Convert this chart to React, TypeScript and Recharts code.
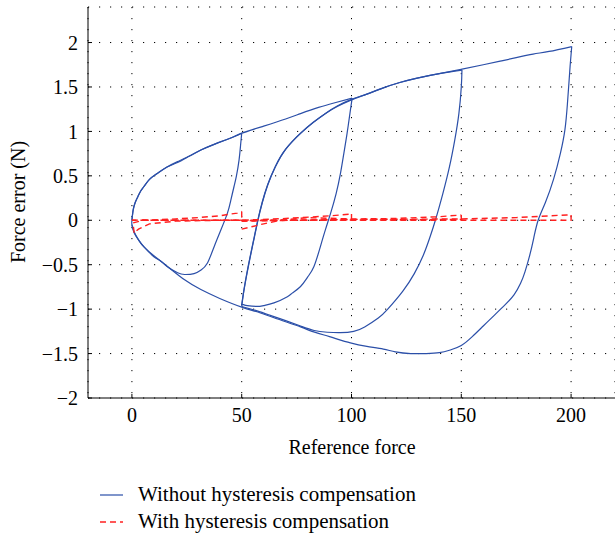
import React from 'react';
import { LineChart, Line, XAxis, YAxis, CartesianGrid } from 'recharts';

type Pt = { x: number; y: number };
const pts = (rows: number[][]): Pt[] => rows.map(([x, y]) => ({ x, y }));

const X_TICKS = [0, 50, 100, 150, 200];
const Y_TICKS = [-2, -1.5, -1, -0.5, 0, 0.5, 1, 1.5, 2];

// Without hysteresis compensation (blue), in loading order
const firstLoad0to50 = pts([
  [0, 0], [0.6, 0.12], [1.5, 0.2], [2.6, 0.26], [4, 0.33], [5.5, 0.38], [8, 0.46], [11.7, 0.53],
  [16, 0.6], [20.8, 0.65], [26, 0.72], [31.4, 0.79], [38, 0.86], [46.4, 0.94], [50, 0.98],
]);
const unload50to0 = pts([
  [50, 0.98], [49.5, 0.85], [48.8, 0.68], [47.6, 0.5], [46.5, 0.38], [45, 0.22], [43.5, 0.08],
  [40.5, -0.11], [37.4, -0.3], [34.4, -0.48], [31.5, -0.56], [28.3, -0.6], [24, -0.61], [20.8, -0.59],
  [16, -0.52], [13.2, -0.46], [10, -0.41], [5.5, -0.3], [3, -0.22], [1, -0.13], [0, -0.05], [0, 0],
]);
const load0to100 = pts([
  [0, 0], [0.6, 0.12], [1.5, 0.2], [2.6, 0.26], [4, 0.33], [5.5, 0.38], [8, 0.46], [11.7, 0.53],
  [16, 0.6], [20.8, 0.66], [26, 0.72], [31.4, 0.79], [38, 0.86], [46.4, 0.94], [50, 0.98],
  [60, 1.06], [70, 1.14], [76.8, 1.2], [85, 1.27], [92, 1.32], [100.3, 1.375],
]);
const unload100to50 = pts([
  [100.3, 1.375], [99.5, 1.24], [98, 0.98], [96.5, 0.75], [95, 0.53], [93, 0.3], [90.5, 0.08],
  [88.2, -0.1], [85.9, -0.29], [82.9, -0.52], [80, -0.64], [76.8, -0.745], [73, -0.82],
  [70.8, -0.86], [64.7, -0.93], [60, -0.96], [57.1, -0.97], [52.6, -0.96], [50.8, -0.95], [50, -0.95],
]);
const load50to150 = pts([
  [50, -0.95], [50.9, -0.8], [52.3, -0.6], [53.9, -0.4], [55.6, -0.2], [57.3, 0], [59.3, 0.2],
  [61.8, 0.4], [65.2, 0.6], [70, 0.8], [76.8, 0.98], [82.5, 1.1], [88, 1.2], [93.5, 1.28],
  [100, 1.355], [107, 1.42], [114.5, 1.49], [122, 1.55], [129.9, 1.6], [140, 1.65], [150.3, 1.69],
]);
const unload150to50 = pts([
  [150.3, 1.69], [150, 1.5], [148.9, 1.2], [147, 0.9], [144.6, 0.6], [141.6, 0.3], [138.2, 0],
  [135.6, -0.2], [132.6, -0.4], [128.6, -0.6], [123.3, -0.8], [116.5, -1.0], [112.2, -1.1],
  [106, -1.2], [101, -1.25], [95, -1.265], [89, -1.26], [83, -1.24], [76.8, -1.19], [70, -1.13],
  [63, -1.07], [57, -1.02], [50, -0.97],
]);
const load50to200 = pts([
  [50, -0.97], [50.95, -0.8], [52.4, -0.6], [54, -0.4], [55.7, -0.2], [57.4, 0], [59.4, 0.2],
  [61.9, 0.4], [65.3, 0.6], [70.1, 0.8], [76.9, 0.98], [82.5, 1.1], [88, 1.2], [93.5, 1.285],
  [100, 1.36], [107, 1.42], [114.5, 1.49], [122, 1.55], [129.9, 1.6], [140, 1.65], [150.3, 1.7],
  [160, 1.75], [167.7, 1.79], [175, 1.83], [182.7, 1.87], [190, 1.9], [200.3, 1.955],
]);
const unload200to0 = pts([
  [200.3, 1.955], [199.6, 1.75], [199, 1.54], [198.3, 1.3], [197.2, 1.02], [195.1, 0.75],
  [192, 0.46], [188.3, 0.2], [185, 0], [183, -0.2], [181, -0.41], [179, -0.58], [177, -0.71],
  [174, -0.84], [170, -0.95], [165, -1.07], [160, -1.19], [155, -1.31], [150, -1.41],
  [145, -1.46], [140, -1.49], [134, -1.5], [127, -1.5], [120, -1.48], [114.5, -1.45],
  [107, -1.42], [99.5, -1.38], [90, -1.31], [82, -1.25], [76.8, -1.2], [65, -1.1], [57, -1.03],
  [50.3, -0.98], [40, -0.88], [31.4, -0.78], [24, -0.67], [16.2, -0.52], [10, -0.4], [5.5, -0.3],
  [3, -0.22], [1, -0.14], [0, -0.05],
]);

// With hysteresis compensation (red), same loading order
const compLoad0to50 = pts([
  [0, 0], [10, 0.005], [20, 0.015], [30, 0.03], [40, 0.05], [45, 0.07], [48, 0.08], [50, 0.1],
]);
const compUnload50to0 = pts([
  [50, 0.1], [50, 0.0], [40, 0], [20, -0.01], [8, -0.04], [3, -0.1], [1, -0.14],
]);
const compLoad0to100 = pts([
  [1, -0.14], [0.5, -0.03], [5, 0], [50, 0], [70, 0.02], [90, 0.05], [100, 0.07],
]);
const compUnload100to50 = pts([
  [100, 0.07], [100, 0.01], [80, 0], [60, 0], [50, -0.01],
]);
const compLoad50to150 = pts([
  [50, -0.1], [55, -0.07], [60, -0.04], [68, 0], [80, 0.03], [100, 0.015], [120, 0.02],
  [140, 0.04], [150, 0.06],
]);
const compUnload150to50 = pts([
  [150, 0.06], [150, 0.01], [120, 0.005], [80, 0], [50, -0.005],
]);
const compLoad50to200 = pts([
  [50, -0.01], [100, 0.01], [150, 0.015], [175, 0.03], [198, 0.06], [200, 0.06],
]);
const compUnload200to0 = pts([
  [200, 0.06], [200, 0], [150, 0], [100, 0], [50, 0], [0, 0],
]);

const BLUE = '#2b4fa8';
const RED = '#ff2020';
const FONT = '"Liberation Serif", "DejaVu Serif", serif';

const blueSegments = [
  firstLoad0to50, unload50to0, load0to100, unload100to50,
  load50to150, unload150to50, load50to200, unload200to0,
];
const redSegments = [
  compLoad0to50, compUnload50to0, compLoad0to100, compUnload100to50,
  compLoad50to150, compUnload150to50, compLoad50to200, compUnload200to0,
];

const tickStyle = { fill: '#000', fontSize: 20, fontFamily: FONT };

export default function App() {
  return (
    <div style={{ position: 'absolute', left: 0, top: 0, width: 615, height: 537, background: '#fff' }}>
      <LineChart width={615} height={537} margin={{ top: 7, right: 0, left: 0, bottom: 79 }}>
        <CartesianGrid stroke="#000" strokeDasharray="1.2 9.8" horizontal vertical />
        <XAxis
          type="number"
          dataKey="x"
          domain={[-20, 220]}
          ticks={X_TICKS}
          allowDataOverflow
          height={60}
          tickSize={-4}
          tickMargin={14}
          axisLine={{ stroke: '#000' }}
          tickLine={{ stroke: '#000' }}
          tick={tickStyle}
          label={{
            content: () => (
              <text x={352} y={454} textAnchor="middle" fontSize={20} fontFamily={FONT} fill="#000">
                Reference force
              </text>
            ),
          }}
        />
        <XAxis
          xAxisId="top"
          orientation="top"
          type="number"
          dataKey="x"
          domain={[-20, 220]}
          ticks={X_TICKS}
          allowDataOverflow
          height={0}
          tickSize={-4}
          tickFormatter={() => ''}
          axisLine={{ stroke: '#000' }}
          tickLine={{ stroke: '#000' }}
        />
        <YAxis
          type="number"
          domain={[-2, 2.4]}
          ticks={Y_TICKS}
          allowDataOverflow
          width={88}
          tickSize={-4}
          tickMargin={14}
          axisLine={{ stroke: '#000' }}
          tickLine={{ stroke: '#000' }}
          tick={tickStyle}
          tickFormatter={(v: number) => (v < 0 ? `\u2212${Math.abs(v)}` : `${v}`)}
          label={{
            content: () => (
              <text
                x={18}
                y={202}
                textAnchor="middle"
                fontSize={20}
                fontFamily={FONT}
                fill="#000"
                transform="rotate(-90 18 202)"
                dominantBaseline="central"
              >
                Force error (N)
              </text>
            ),
          }}
        />
        <YAxis
          yAxisId="right"
          orientation="right"
          type="number"
          domain={[-2, 2.4]}
          ticks={Y_TICKS}
          allowDataOverflow
          width={0}
          tickSize={-4}
          tickFormatter={() => ''}
          axisLine={{ stroke: '#000' }}
          tickLine={{ stroke: '#000' }}
        />
        {blueSegments.map((seg, i) => (
          <Line
            key={`b${i}`}
            data={seg}
            dataKey="y"
            type="natural"
            stroke={BLUE}
            strokeWidth={1.2}
            dot={false}
            activeDot={false}
            isAnimationActive={false}
          />
        ))}
        {redSegments.map((seg, i) => (
          <Line
            key={`r${i}`}
            data={seg}
            dataKey="y"
            type="linear"
            stroke={RED}
            strokeWidth={1.4}
            strokeDasharray="6 4"
            dot={false}
            activeDot={false}
            isAnimationActive={false}
          />
        ))}
      </LineChart>
      <div style={{ position: 'absolute', left: 100, top: 481, fontFamily: FONT, fontSize: 21, color: '#000' }}>
        <div style={{ display: 'flex', alignItems: 'center', height: 27 }}>
          <svg width={24} height={4} style={{ marginRight: 14 }}>
            <line x1={0} y1={2} x2={23} y2={2} stroke={BLUE} strokeWidth={1.2} />
          </svg>
          <span>Without hysteresis compensation</span>
        </div>
        <div style={{ display: 'flex', alignItems: 'center', height: 27 }}>
          <svg width={24} height={4} style={{ marginRight: 14 }}>
            <line x1={0} y1={2} x2={23} y2={2} stroke={RED} strokeWidth={1.4} strokeDasharray="6 4" />
          </svg>
          <span>With hysteresis compensation</span>
        </div>
      </div>
    </div>
  );
}
